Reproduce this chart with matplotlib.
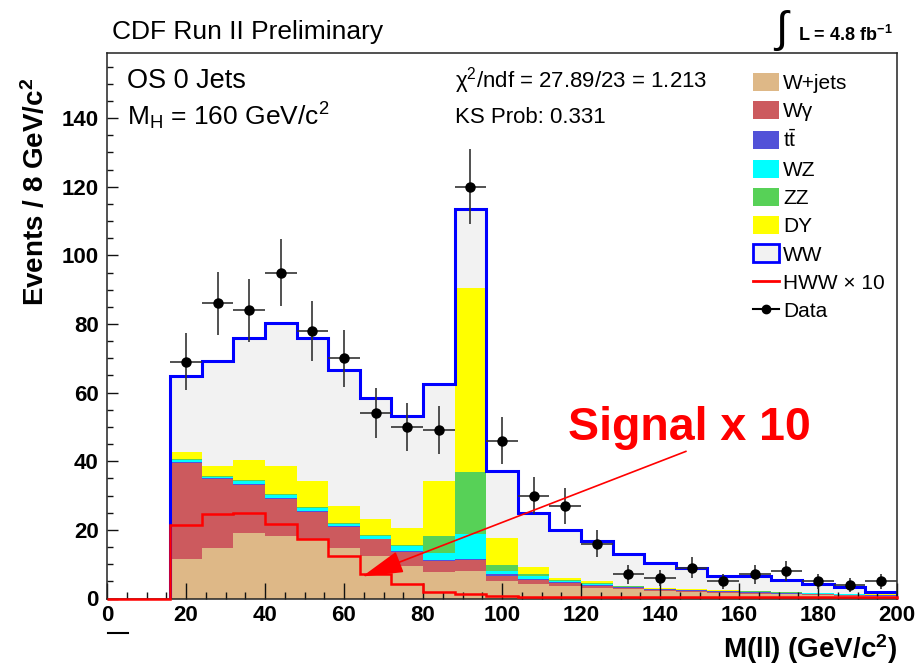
import numpy as np
import matplotlib
matplotlib.use("Agg")
import matplotlib.pyplot as plt
from matplotlib.patches import Patch
from matplotlib.lines import Line2D
from matplotlib.ticker import MultipleLocator

plt.rcParams['font.family'] = ['Liberation Sans', 'DejaVu Sans']
plt.rcParams['mathtext.default'] = 'regular'

# Dilepton invariant mass, 8 GeV bins from 16 to 200 GeV/c^2
mass_edges = np.arange(16, 201, 8)

data_counts = np.array([69, 86, 84, 95, 78, 70, 54, 50, 49, 120, 46, 30, 27,
                        16, 7, 6, 9, 5, 7, 8, 5, 4, 5])

# Expected background contributions per bin (stacked bottom to top)
wjets = [11.4, 14.8, 19.1, 18.2, 17.2, 14.8, 12.3, 9.4, 7.7, 8.0, 5.0, 4.1,
         3.6, 3.0, 2.7, 2.3, 2.0, 1.6, 1.4, 1.2, 1.0, 0.8, 0.6]
wgamma = [28.1, 20.1, 14.1, 10.9, 8.0, 6.1, 4.9, 4.1, 3.2, 3.2, 1.7, 1.4,
          0.8, 0.7, 0.3, 0.2, 0.2, 0.2, 0.2, 0.2, 0.2, 0.2, 0.2]
ttbar = [0.2, 0.2, 0.2, 0.2, 0.2, 0.2, 0.2, 0.2, 0.2, 0.2, 0.3, 0.3,
         0.3, 0.3, 0.3, 0.2, 0.2, 0.3, 0.2, 0.2, 0.2, 0.1, 0.1]
wz = [0.6, 0.4, 0.8, 1.0, 1.0, 0.5, 0.8, 1.5, 2.2, 7.5, 1.0, 0.7,
      0.3, 0.2, 0.1, 0.1, 0.1, 0.1, 0.1, 0.1, 0.1, 0.1, 0.1]
zz = [0.4, 0.3, 0.3, 0.3, 0.3, 0.3, 0.3, 0.4, 4.9, 17.9, 1.9, 0.5,
      0.3, 0.2, 0.1, 0.1, 0.1, 0.1, 0.2, 0.1, 0.1, 0.1, 0.1]
dy = [2.0, 2.8, 6.0, 8.0, 7.5, 5.2, 4.7, 5.0, 16.0, 53.8, 7.8, 2.1,
      0.7, 0.6, 0.1, 0.1, 0.1, 0.1, 0.1, 0.1, 0.1, 0.1, 0.1]
ww = [22.1, 30.6, 35.5, 41.6, 41.8, 39.5, 35.3, 32.6, 28.4, 23.0, 19.4, 15.9,
      13.9, 11.7, 9.5, 7.4, 6.2, 4.1, 4.5, 3.4, 2.6, 1.9, 0.8]

# Higgs signal (m_H = 160) scaled by 10
hww_x10 = [21.3, 24.5, 24.8, 21.6, 17.2, 12.3, 7.0, 4.1, 1.8, 1.4, 0.7, 0.5,
           0.4, 0.3, 0.3, 0.3, 0.3, 0.3, 0.3, 0.3, 0.3, 0.3, 0.3]

process_labels = ['W+jets', 'Wγ', r't$\bar{t}$', 'WZ', 'ZZ', 'DY', 'WW']
process_colors = ['#deb887', '#cc5a5e', '#5252d8', '#00ffff', '#57d157',
                  '#ffff00', '#f2f2f2']

W, H = 916, 665
fig = plt.figure(figsize=(W / 100, H / 100), dpi=100)
ax = fig.add_axes([107 / W, 1 - 598.5 / H, 790 / W, 545.5 / H])

# Stacked backgrounds
bottom = np.zeros(len(data_counts))
for vals, col in zip([wjets, wgamma, ttbar, wz, zz, dy, ww], process_colors):
    vals = np.asarray(vals, dtype=float)
    ax.stairs(bottom + vals, mass_edges, baseline=bottom, fill=True,
              color=col, lw=0, zorder=1)
    bottom = bottom + vals
total = bottom

# WW outline around the full stack
ax.stairs(total, mass_edges, baseline=0, color='#0000ff', lw=2.2, zorder=2)

# Signal x10, starting from an empty range below 16 GeV
sig_edges = np.r_[0, 8, mass_edges]
sig_vals = np.r_[0.0, 0.0, hww_x10]
ax.stairs(sig_vals, sig_edges, color='#ff0000', lw=1.8, zorder=3, clip_on=False)

# Data with Poisson errors
centers = 0.5 * (mass_edges[:-1] + mass_edges[1:])
half_width = 0.5 * np.diff(mass_edges)
ax.errorbar(centers, data_counts, yerr=np.sqrt(data_counts), xerr=half_width,
            fmt='o', color='black', ecolor='#333333', ms=6.5,
            elinewidth=1.2, capsize=0, zorder=4)

ax.set_xlim(0, 200)
ax.set_ylim(0, 159)
ax.xaxis.set_major_locator(MultipleLocator(20))
ax.xaxis.set_minor_locator(MultipleLocator(5))
ax.yaxis.set_major_locator(MultipleLocator(20))
ax.yaxis.set_minor_locator(MultipleLocator(5))
ax.tick_params(which='both', direction='in', top=False, right=False,
               color='#111111', width=1)
ax.tick_params(axis='x', which='major', length=11.5, labelsize=16, pad=5)
ax.tick_params(axis='x', which='minor', length=5)
ax.tick_params(axis='y', which='major', length=8, labelsize=16, pad=6)
ax.tick_params(axis='y', which='minor', length=4.5)
for t in ax.get_xticklabels() + ax.get_yticklabels():
    t.set_fontweight('bold')
for s in ax.spines.values():
    s.set_linewidth(1.1)
    s.set_color('#222222')

ax.set_ylabel(r'Events / 8 GeV/c$^{2}$', fontsize=20, fontweight='bold',
              ha='center', va='center')
ax.yaxis.set_label_coords(-0.091, 0.745)
ax.set_xlabel(r'M(ll) (GeV/c$^{2}$)', fontsize=20, fontweight='bold',
              ha='right', va='center')
ax.xaxis.set_label_coords(1.0, -0.092)


def fpos(x, y):
    return x / W, 1 - y / H


fig.text(*fpos(112, 38.5), 'CDF Run II Preliminary', fontsize=19, va='baseline')
fig.text(*fpos(781, 30), '∫', fontsize=32, ha='center', va='center')
fig.text(*fpos(798, 41), r'L = 4.8 fb$^{-1}$', fontsize=13, fontweight='bold',
         va='baseline')
fig.text(*fpos(127, 88), 'OS 0 Jets', fontsize=19.5, va='baseline')
fig.text(*fpos(127, 125), r'M$_{H}$ = 160 GeV/c$^{2}$', fontsize=19, va='baseline')
fig.text(*fpos(455, 87), r'χ$^{2}$/ndf = 27.89/23 = 1.213', fontsize=16,
         va='baseline')
fig.text(*fpos(455, 123), 'KS Prob: 0.331', fontsize=16, va='baseline')

# Legend
handles = [Patch(facecolor=c, edgecolor='none') for c in process_colors[:-1]]
handles.append(Patch(facecolor=process_colors[-1], edgecolor='#0000ff', lw=2))
handles.append(Line2D([], [], color='#ff0000', lw=2))
handles.append(Line2D([], [], color='black', lw=1.5, marker='o', ms=6))
labels = process_labels + ['HWW × 10', 'Data']
fig.legend(handles, labels, loc='upper left', bbox_to_anchor=fpos(753, 73),
           frameon=False, fontsize=15, handlelength=1.25, handleheight=0.95,
           handletextpad=0.2, labelspacing=0.39, borderpad=0, borderaxespad=0)

# Signal annotation
ax.text(116.7, 46.1, 'Signal x 10', color='#ff0000', fontsize=33.5,
        fontweight='bold', va='baseline', zorder=5)
ax.annotate('', xy=(64.6, 6.4), xytext=(146.6, 42.9), zorder=5,
            arrowprops=dict(arrowstyle='-|>,head_length=2.6,head_width=0.7',
                            color='#ff0000', lw=1.2, mutation_scale=10,
                            shrinkA=0, shrinkB=0))

fig.add_artist(Line2D([108 / W, 128 / W], [1 - 633 / H] * 2, color='black', lw=1.5))

fig.savefig('out.png', dpi=100)
